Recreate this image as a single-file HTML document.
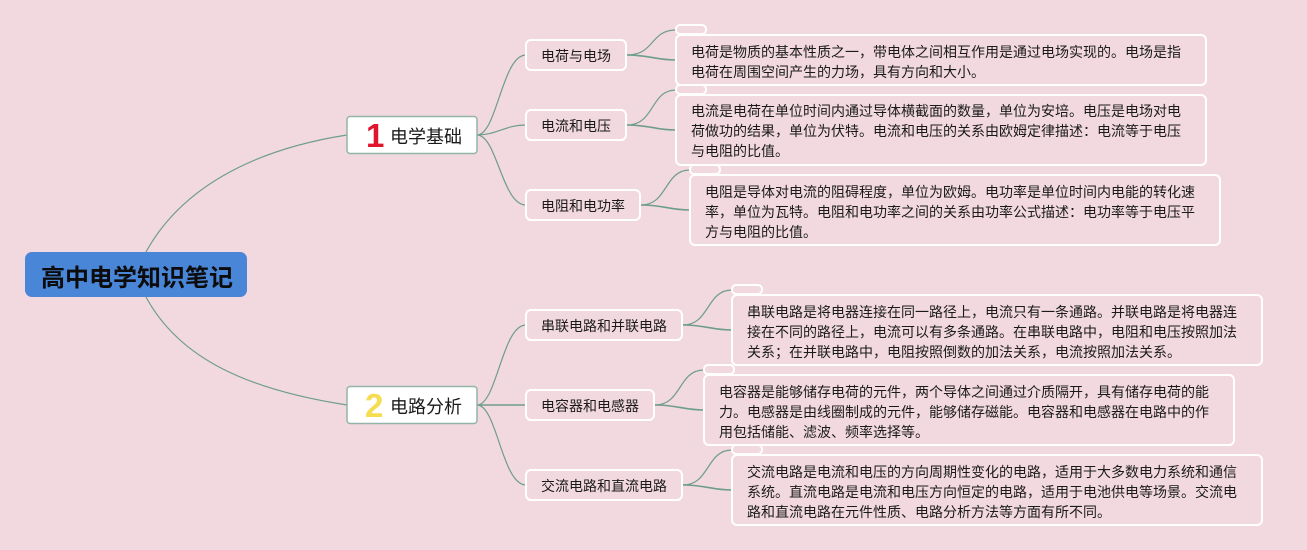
<!DOCTYPE html>
<html lang="zh"><head><meta charset="utf-8"><title>高中电学知识笔记</title>
<style>
html,body{margin:0;padding:0;background:#f2d9e0}
svg{display:block}
text{font-family:"Liberation Sans","WenQuanYi Zen Hei","Noto Sans CJK SC",sans-serif;fill:#1a1a1a;white-space:pre}
tspan{font-family:"Noto Sans CJK TC",sans-serif}
.s{font-size:14px}
.b{font-size:18px}
.l{fill:none;stroke:#6f9d8d;stroke-width:1.2}
.n{fill:none;stroke:#fff;stroke-width:2}
.num{font-family:"Liberation Sans",sans-serif;font-weight:700;font-size:33px}
</style></head><body>
<svg width="1307" height="550" viewBox="0 0 1307 550" xmlns="http://www.w3.org/2000/svg">
<rect width="1307" height="550" fill="#f2d9e0"/>
<g>
<path class="l" d="M146 252C180 190 250 150 347 135"/>
<path class="l" d="M146 297C180 360 250 390 347 405"/>
<path class="l" d="M477 135C497 135 502 55 526 55"/>
<path class="l" d="M477 135C497 135 505 125 526 125"/>
<path class="l" d="M477 135C497 135 502 205 526 205"/>
<path class="l" d="M477 405C497 405 502 325 526 325"/>
<path class="l" d="M477 405L526 405" style="stroke-width:1.6"/>
<path class="l" d="M477 405C497 405 502 485 526 485"/>
<path class="l" d="M627 55C655 55 650 30 676 30"/>
<path class="l" d="M627 55C650 55 655 60 676 60" style="stroke-width:1.6"/>
<path class="l" d="M627 125C655 125 650 90 676 90"/>
<path class="l" d="M627 125C650 125 655 130 676 130" style="stroke-width:1.6"/>
<path class="l" d="M641 205C668 205 664 170 690 170"/>
<path class="l" d="M641 205C664 205 669 210 690 210" style="stroke-width:1.6"/>
<path class="l" d="M683 325C710 325 706 290 732 290"/>
<path class="l" d="M683 325C706 325 711 330 732 330" style="stroke-width:1.6"/>
<path class="l" d="M655 405C682 405 678 370 704 370"/>
<path class="l" d="M655 405C678 405 683 410 704 410" style="stroke-width:1.6"/>
<path class="l" d="M683 485C710 485 706 450 732 450"/>
<path class="l" d="M683 485C706 485 711 490 732 490" style="stroke-width:1.6"/>
</g>

<rect x="25" y="252" width="222" height="45" rx="7" fill="#4a86d8"/>
<text x="41" y="286" font-size="24" font-weight="700" style="fill:#0c0c0c">高中电学知识笔记</text>

<rect x="347" y="116.500" width="130" height="37" rx="3" fill="#fff" stroke="#93b5a8" stroke-width="1.500"/>
<text class="num" x="366" y="147" style="fill:#e0142c">1</text>
<text class="b" x="390" y="143">电学基础</text>
<rect x="347" y="386.500" width="130" height="37" rx="3" fill="#fff" stroke="#93b5a8" stroke-width="1.500"/>
<text class="num" x="365" y="417" style="fill:#f5dc50">2</text>
<text class="b" x="390" y="413">电路分析</text>

<rect class="n" x="526" y="40" width="100" height="30" rx="5"/><text class="s" x="541" y="61">电荷与电场</text>
<rect class="n" x="526" y="110" width="100" height="30" rx="5"/><text class="s" x="541" y="131">电流和电压</text>
<rect class="n" x="526" y="190" width="114" height="30" rx="5"/><text class="s" x="541" y="211">电阻和电功率</text>
<rect class="n" x="526" y="310" width="156" height="30" rx="5"/><text class="s" x="541" y="331">串联电路和并联电路</text>
<rect class="n" x="526" y="390" width="128" height="30" rx="5"/><text class="s" x="541" y="411">电容器和电感器</text>
<rect class="n" x="526" y="470" width="156" height="30" rx="5"/><text class="s" x="541" y="491">交流电路和直流电路</text>

<rect class="n" x="676" y="25" width="30" height="9" rx="4"/>
<rect class="n" x="676" y="35" width="530" height="50" rx="5"/>
<text class="s" x="691" y="57">电荷是物质的基本性质之一，带电体之间相互作用是通过电场实现的。电场是指</text>
<text class="s" x="691" y="77">电荷在周围空间产生的力场，具有方向和大小。</text>

<rect class="n" x="676" y="85" width="30" height="9" rx="4"/>
<rect class="n" x="676" y="95" width="530" height="70" rx="5"/>
<text class="s" x="691" y="116">电流是电荷在单位时间内通过导体横截面的数量，单位为安培。电压是电场对电</text>
<text class="s" x="691" y="136">荷做功的结果，单位为伏特。电流和电压的关系由欧姆定律描述<tspan>：</tspan>电流等于电压</text>
<text class="s" x="691" y="156">与电阻的比值。</text>

<rect class="n" x="690" y="165" width="30" height="9" rx="4"/>
<rect class="n" x="690" y="175" width="530" height="70" rx="5"/>
<text class="s" x="705" y="197">电阻是导体对电流的阻碍程度，单位为欧姆。电功率是单位时间内电能的转化速</text>
<text class="s" x="705" y="217">率，单位为瓦特。电阻和电功率之间的关系由功率公式描述<tspan>：</tspan>电功率等于电压平</text>
<text class="s" x="705" y="237">方与电阻的比值。</text>

<rect class="n" x="732" y="285" width="30" height="9" rx="4"/>
<rect class="n" x="732" y="295" width="530" height="70" rx="5"/>
<text class="s" x="747" y="317">串联电路是将电器连接在同一路径上，电流只有一条通路。并联电路是将电器连</text>
<text class="s" x="747" y="337">接在不同的路径上，电流可以有多条通路。在串联电路中，电阻和电压按照加法</text>
<text class="s" x="747" y="357">关系<tspan>；</tspan>在并联电路中，电阻按照倒数的加法关系，电流按照加法关系。</text>

<rect class="n" x="704" y="365" width="30" height="9" rx="4"/>
<rect class="n" x="704" y="375" width="530" height="70" rx="5"/>
<text class="s" x="719" y="397">电容器是能够储存电荷的元件，两个导体之间通过介质隔开，具有储存电荷的能</text>
<text class="s" x="719" y="417">力。电感器是由线圈制成的元件，能够储存磁能。电容器和电感器在电路中的作</text>
<text class="s" x="719" y="437">用包括储能、滤波、频率选择等。</text>

<rect class="n" x="732" y="445" width="30" height="9" rx="4"/>
<rect class="n" x="732" y="455" width="530" height="70" rx="5"/>
<text class="s" x="747" y="477">交流电路是电流和电压的方向周期性变化的电路，适用于大多数电力系统和通信</text>
<text class="s" x="747" y="497">系统。直流电路是电流和电压方向恒定的电路，适用于电池供电等场景。交流电</text>
<text class="s" x="747" y="517">路和直流电路在元件性质、电路分析方法等方面有所不同。</text>
</svg>
</body></html>
